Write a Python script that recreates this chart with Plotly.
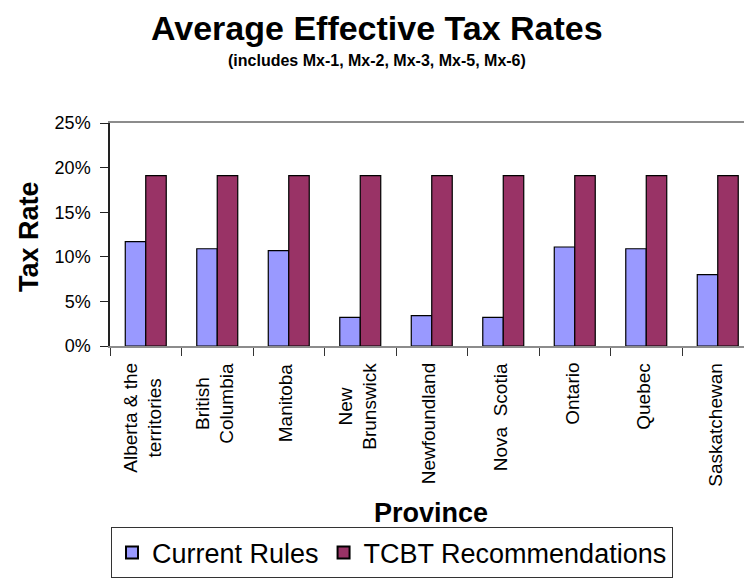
import plotly.graph_objects as go

provinces = ["Alberta & the<br>territories", "British<br>Columbia", "Manitoba", "New<br>Brunswick",
             "Newfoundland", "Nova  Scotia", "Ontario", "Quebec", "Saskatchewan"]
current_rules = [11.7, 10.9, 10.7, 3.2, 3.4, 3.2, 11.1, 10.9, 8.0]
tcbt = [19.1, 19.1, 19.1, 19.1, 19.1, 19.1, 19.1, 19.1, 19.1]
y_ticks = [0, 5, 10, 15, 20, 25]
y_tick_labels = ["0%", "5%", "10%", "15%", "20%", "25%"]

FONT = "Liberation Sans, Arial, sans-serif"
L, R, T, B, W, H = 110, 0, 123, 225, 744, 579
PW, PH = W - L - R, H - T - B


def px(x):
    return (x - L) / PW


def py(y):
    return (H - B - y) / PH


fig = go.Figure()
fig.add_trace(go.Bar(x=provinces, y=current_rules, name="Current Rules",
                     marker=dict(color="#9999FF", line=dict(color="black", width=1.2))))
fig.add_trace(go.Bar(x=provinces, y=tcbt, name="TCBT Recommendations",
                     marker=dict(color="#993366", line=dict(color="black", width=1.2))))

annotations = [
    dict(text="<b>Average Effective Tax Rates</b>", xref="paper", yref="paper",
         x=px(377), y=py(25), xanchor="center", yanchor="middle",
         showarrow=False, font=dict(size=34, family=FONT)),
    dict(text="<b>(includes Mx-1, Mx-2, Mx-3, Mx-5, Mx-6)</b>", xref="paper", yref="paper",
         x=px(377), y=py(58), xanchor="center", yanchor="middle",
         showarrow=False, font=dict(size=16, family=FONT)),
    dict(text="<b>Province</b>", xref="paper", yref="paper",
         x=px(431), y=py(527), xanchor="center", yanchor="middle",
         showarrow=False, font=dict(size=27, family=FONT)),
    dict(text="<b>Tax Rate</b>", xref="paper", yref="paper",
         x=px(29), y=py(241), xanchor="center", yanchor="middle", textangle=-90,
         showarrow=False, font=dict(size=27, family=FONT)),
]
# category labels, rotated and centre-aligned like the original
for p in provinces:
    annotations.append(dict(text=p, x=p, xref="x", y=0, yref="y", yshift=-15,
                            xshift=-3, xanchor="center", yanchor="top", textangle=-90,
                            align="center", showarrow=False,
                            font=dict(size=19, family=FONT)))

fig.update_layout(
    width=W, height=H,
    margin=dict(l=L, r=R, t=T, b=B),
    paper_bgcolor="white", plot_bgcolor="white",
    font=dict(family=FONT, color="black"),
    barmode="group", bargap=0.427, bargroupgap=0,
    showlegend=True,
    legend=dict(orientation="h", x=px(111), xanchor="left", y=py(542), yanchor="top",
                font=dict(size=27, family=FONT), bordercolor="#333333", borderwidth=1,
                bgcolor="white", itemsizing="constant", traceorder="normal",
                itemwidth=30),
    annotations=annotations,
)

fig.update_xaxes(
    range=[-0.5, 8.367], showticklabels=False,
    showline=True, linecolor="#8c8c8c", linewidth=2, mirror=True,
    ticks="outside", tickson="boundaries", ticklen=8, tickcolor="#333333",
    showgrid=False, automargin=False,
)
fig.update_yaxes(
    range=[0, 25], tickvals=y_ticks, ticktext=y_tick_labels,
    tickfont=dict(size=18, family=FONT), ticklabelstandoff=6,
    showline=True, linecolor="#222222", linewidth=1.5,
    ticks="outside", ticklen=8, tickcolor="#222222",
    showgrid=False, zeroline=False, automargin=False,
)

fig.write_html("out.html")
